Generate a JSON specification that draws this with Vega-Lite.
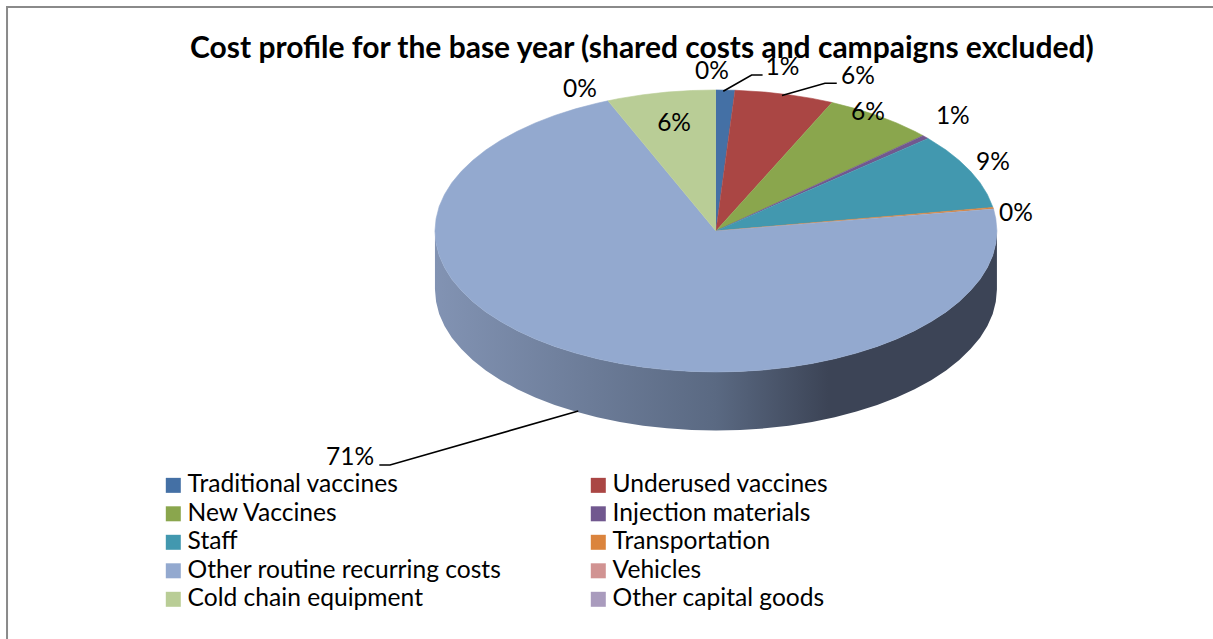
{
"$schema":"https://vega.github.io/schema/vega-lite/v6.json",
"width":1213,"height":639,"padding":0,"autosize":{"type":"none"},
"background":"#ffffff",
"view":{"stroke":null},
"config":{"font":"Lato"},
"title":{"text":"Cost profile for the base year (shared costs and campaigns excluded)","orient":"top","anchor":"start","frame":"group","dx":190,"offset":-64,"fontSize":30,"fontWeight":"bold","font":"Lato","color":"#000000"},
"datasets":{
"frame":[{"u":1.769,"v":1.589,"seq":1},{"u":-2.523,"v":1.589,"seq":2},{"u":-2.523,"v":-2.894,"seq":3}],
"wall":[
{"u":1,"top":0,"bottom":-0.415},{"u":0.996,"top":-0.087,"bottom":-0.502},{"u":0.985,"top":-0.174,"bottom":-0.589},{"u":0.966,"top":-0.259,"bottom":-0.674},{"u":0.94,"top":-0.342,"bottom":-0.757},{"u":0.906,"top":-0.423,"bottom":-0.838},{"u":0.866,"top":-0.5,"bottom":-0.915},{"u":0.819,"top":-0.574,"bottom":-0.989},{"u":0.766,"top":-0.643,"bottom":-1.058},{"u":0.707,"top":-0.707,"bottom":-1.122},{"u":0.643,"top":-0.766,"bottom":-1.181},{"u":0.574,"top":-0.819,"bottom":-1.234},{"u":0.5,"top":-0.866,"bottom":-1.281},{"u":0.423,"top":-0.906,"bottom":-1.321},{"u":0.342,"top":-0.94,"bottom":-1.355},{"u":0.259,"top":-0.966,"bottom":-1.381},{"u":0.174,"top":-0.985,"bottom":-1.4},{"u":0.087,"top":-0.996,"bottom":-1.411},{"u":0,"top":-1,"bottom":-1.415},
{"u":-0.087,"top":-0.996,"bottom":-1.411},{"u":-0.174,"top":-0.985,"bottom":-1.4},{"u":-0.259,"top":-0.966,"bottom":-1.381},{"u":-0.342,"top":-0.94,"bottom":-1.355},{"u":-0.423,"top":-0.906,"bottom":-1.321},{"u":-0.5,"top":-0.866,"bottom":-1.281},{"u":-0.574,"top":-0.819,"bottom":-1.234},{"u":-0.643,"top":-0.766,"bottom":-1.181},{"u":-0.707,"top":-0.707,"bottom":-1.122},{"u":-0.766,"top":-0.643,"bottom":-1.058},{"u":-0.819,"top":-0.574,"bottom":-0.989},{"u":-0.866,"top":-0.5,"bottom":-0.915},{"u":-0.906,"top":-0.423,"bottom":-0.838},{"u":-0.94,"top":-0.342,"bottom":-0.757},{"u":-0.966,"top":-0.259,"bottom":-0.674},{"u":-0.985,"top":-0.174,"bottom":-0.589},{"u":-0.996,"top":-0.087,"bottom":-0.502},{"u":-1,"top":0,"bottom":-0.415}
],
"slices":[
{"category":"Traditional vaccines","seq":0,"u":0,"v":0},{"category":"Traditional vaccines","seq":1,"u":0,"v":1},{"category":"Traditional vaccines","seq":2,"u":0.068,"v":0.998},
{"category":"Underused vaccines","seq":0,"u":0,"v":0},{"category":"Underused vaccines","seq":1,"u":0.068,"v":0.998},{"category":"Underused vaccines","seq":2,"u":0.174,"v":0.985},{"category":"Underused vaccines","seq":3,"u":0.259,"v":0.966},{"category":"Underused vaccines","seq":4,"u":0.342,"v":0.94},{"category":"Underused vaccines","seq":5,"u":0.413,"v":0.911},
{"category":"New Vaccines","seq":0,"u":0,"v":0},{"category":"New Vaccines","seq":1,"u":0.413,"v":0.911},{"category":"New Vaccines","seq":2,"u":0.5,"v":0.866},{"category":"New Vaccines","seq":3,"u":0.574,"v":0.819},{"category":"New Vaccines","seq":4,"u":0.643,"v":0.766},{"category":"New Vaccines","seq":5,"u":0.707,"v":0.707},{"category":"New Vaccines","seq":6,"u":0.737,"v":0.676},
{"category":"Injection materials","seq":0,"u":0,"v":0},{"category":"Injection materials","seq":1,"u":0.737,"v":0.676},{"category":"Injection materials","seq":2,"u":0.755,"v":0.656},
{"category":"Staff","seq":0,"u":0,"v":0},{"category":"Staff","seq":1,"u":0.755,"v":0.656},{"category":"Staff","seq":2,"u":0.819,"v":0.574},{"category":"Staff","seq":3,"u":0.866,"v":0.5},{"category":"Staff","seq":4,"u":0.906,"v":0.423},{"category":"Staff","seq":5,"u":0.94,"v":0.342},{"category":"Staff","seq":6,"u":0.966,"v":0.259},{"category":"Staff","seq":7,"u":0.986,"v":0.167},
{"category":"Transportation","seq":0,"u":0,"v":0},{"category":"Transportation","seq":1,"u":0.986,"v":0.167},{"category":"Transportation","seq":2,"u":0.988,"v":0.156},
{"category":"Other routine recurring costs","seq":0,"u":0,"v":0},{"category":"Other routine recurring costs","seq":1,"u":0.988,"v":0.156},{"category":"Other routine recurring costs","seq":2,"u":0.996,"v":0.087},{"category":"Other routine recurring costs","seq":3,"u":1,"v":0},{"category":"Other routine recurring costs","seq":4,"u":0.996,"v":-0.087},{"category":"Other routine recurring costs","seq":5,"u":0.985,"v":-0.174},{"category":"Other routine recurring costs","seq":6,"u":0.966,"v":-0.259},{"category":"Other routine recurring costs","seq":7,"u":0.94,"v":-0.342},{"category":"Other routine recurring costs","seq":8,"u":0.906,"v":-0.423},{"category":"Other routine recurring costs","seq":9,"u":0.866,"v":-0.5},{"category":"Other routine recurring costs","seq":10,"u":0.819,"v":-0.574},{"category":"Other routine recurring costs","seq":11,"u":0.766,"v":-0.643},{"category":"Other routine recurring costs","seq":12,"u":0.707,"v":-0.707},{"category":"Other routine recurring costs","seq":13,"u":0.643,"v":-0.766},{"category":"Other routine recurring costs","seq":14,"u":0.574,"v":-0.819},{"category":"Other routine recurring costs","seq":15,"u":0.5,"v":-0.866},{"category":"Other routine recurring costs","seq":16,"u":0.423,"v":-0.906},{"category":"Other routine recurring costs","seq":17,"u":0.342,"v":-0.94},{"category":"Other routine recurring costs","seq":18,"u":0.259,"v":-0.966},{"category":"Other routine recurring costs","seq":19,"u":0.174,"v":-0.985},{"category":"Other routine recurring costs","seq":20,"u":0.087,"v":-0.996},{"category":"Other routine recurring costs","seq":21,"u":0,"v":-1},{"category":"Other routine recurring costs","seq":22,"u":-0.087,"v":-0.996},{"category":"Other routine recurring costs","seq":23,"u":-0.174,"v":-0.985},{"category":"Other routine recurring costs","seq":24,"u":-0.259,"v":-0.966},{"category":"Other routine recurring costs","seq":25,"u":-0.342,"v":-0.94},{"category":"Other routine recurring costs","seq":26,"u":-0.423,"v":-0.906},{"category":"Other routine recurring costs","seq":27,"u":-0.5,"v":-0.866},{"category":"Other routine recurring costs","seq":28,"u":-0.574,"v":-0.819},{"category":"Other routine recurring costs","seq":29,"u":-0.643,"v":-0.766},{"category":"Other routine recurring costs","seq":30,"u":-0.707,"v":-0.707},{"category":"Other routine recurring costs","seq":31,"u":-0.766,"v":-0.643},{"category":"Other routine recurring costs","seq":32,"u":-0.819,"v":-0.574},{"category":"Other routine recurring costs","seq":33,"u":-0.866,"v":-0.5},{"category":"Other routine recurring costs","seq":34,"u":-0.906,"v":-0.423},{"category":"Other routine recurring costs","seq":35,"u":-0.94,"v":-0.342},{"category":"Other routine recurring costs","seq":36,"u":-0.966,"v":-0.259},{"category":"Other routine recurring costs","seq":37,"u":-0.985,"v":-0.174},{"category":"Other routine recurring costs","seq":38,"u":-0.996,"v":-0.087},{"category":"Other routine recurring costs","seq":39,"u":-1,"v":0},{"category":"Other routine recurring costs","seq":40,"u":-0.996,"v":0.087},{"category":"Other routine recurring costs","seq":41,"u":-0.985,"v":0.174},{"category":"Other routine recurring costs","seq":42,"u":-0.966,"v":0.259},{"category":"Other routine recurring costs","seq":43,"u":-0.94,"v":0.342},{"category":"Other routine recurring costs","seq":44,"u":-0.906,"v":0.423},{"category":"Other routine recurring costs","seq":45,"u":-0.866,"v":0.5},{"category":"Other routine recurring costs","seq":46,"u":-0.819,"v":0.574},{"category":"Other routine recurring costs","seq":47,"u":-0.766,"v":0.643},{"category":"Other routine recurring costs","seq":48,"u":-0.707,"v":0.707},{"category":"Other routine recurring costs","seq":49,"u":-0.643,"v":0.766},{"category":"Other routine recurring costs","seq":50,"u":-0.574,"v":0.819},{"category":"Other routine recurring costs","seq":51,"u":-0.5,"v":0.866},{"category":"Other routine recurring costs","seq":52,"u":-0.423,"v":0.906},{"category":"Other routine recurring costs","seq":53,"u":-0.384,"v":0.923},
{"category":"Cold chain equipment","seq":0,"u":0,"v":0},{"category":"Cold chain equipment","seq":1,"u":-0.384,"v":0.923},{"category":"Cold chain equipment","seq":2,"u":-0.342,"v":0.94},{"category":"Cold chain equipment","seq":3,"u":-0.259,"v":0.966},{"category":"Cold chain equipment","seq":4,"u":-0.174,"v":0.985},{"category":"Cold chain equipment","seq":5,"u":-0.087,"v":0.996},{"category":"Cold chain equipment","seq":6,"u":0,"v":1}
],
"leaders":[
{"leader":"Traditional vaccines","seq":1,"u":0.026,"v":0.991},{"leader":"Traditional vaccines","seq":2,"u":0.127,"v":1.106},{"leader":"Traditional vaccines","seq":3,"u":0.166,"v":1.106},
{"leader":"Underused vaccines","seq":1,"u":0.235,"v":0.96},{"leader":"Underused vaccines","seq":2,"u":0.388,"v":1.048},{"leader":"Underused vaccines","seq":3,"u":0.43,"v":1.048},
{"leader":"Other routine recurring costs","seq":1,"u":-0.49,"v":-1.277},{"leader":"Other routine recurring costs","seq":2,"u":-1.16,"v":-1.66},{"leader":"Other routine recurring costs","seq":3,"u":-1.198,"v":-1.66}
],
"labels":[
{"category":"Other capital goods","label":"0%","u":-0.014,"v":1.135},
{"category":"Traditional vaccines","label":"1%","u":0.237,"v":1.165},
{"category":"Underused vaccines","label":"6%","u":0.505,"v":1.101},
{"category":"New Vaccines","label":"6%","u":0.541,"v":0.844},
{"category":"Injection materials","label":"1%","u":0.843,"v":0.816},
{"category":"Staff","label":"9%","u":0.986,"v":0.491},
{"category":"Transportation","label":"0%","u":1.068,"v":0.128},
{"category":"Other routine recurring costs","label":"71%","u":-1.302,"v":-1.603},
{"category":"Vehicles","label":"0%","u":-0.484,"v":1.007},
{"category":"Cold chain equipment","label":"6%","u":-0.149,"v":0.768}
]
},
"encoding":{
"x":{"field":"u","type":"quantitative","axis":null,"scale":{"domain":[-2.548,1.769],"nice":false,"zero":false}},
"y":{"type":"quantitative","axis":null,"scale":{"domain":[-2.894,1.638],"nice":false,"zero":false}}
},
"layer":[
{"data":{"name":"frame"},"mark":{"type":"line","color":"#8a8a8a","strokeWidth":2,"clip":false},"encoding":{"y":{"field":"v","type":"quantitative"},"order":{"field":"seq"}}},
{"data":{"name":"wall"},"mark":{"type":"area","color":{"gradient":"linear","x1":0,"x2":1,"y1":0,"y2":0,"stops":[{"offset":0,"color":"#8293b3"},{"offset":0.5,"color":"#5a6982"},{"offset":0.7,"color":"#3c4456"},{"offset":1,"color":"#3c4456"}]}},"encoding":{"y":{"field":"top","type":"quantitative"},"y2":{"field":"bottom"}}},
{"data":{"name":"slices"},"mark":{"type":"line","strokeWidth":0.6},"encoding":{
"y":{"field":"v","type":"quantitative"},
"order":{"field":"seq"},
"detail":{"field":"category"},
"fill":{"field":"category","type":"nominal","sort":null,
"scale":{"domain":["Traditional vaccines","Underused vaccines","New Vaccines","Injection materials","Staff","Transportation","Other routine recurring costs","Vehicles","Cold chain equipment","Other capital goods"],"range":["#4470a5","#aa4644","#8aa64d","#71588f","#4298af","#db843d","#93a9cf","#d19392","#b9cd96","#a99bbd"]},
"legend":{"title":null,"orient":"none","legendX":161,"legendY":473,"columns":2,"direction":"horizontal","symbolType":"square","symbolSize":225,"symbolStrokeWidth":0,"labelFont":"Lato","labelFontSize":24.6,"labelColor":"#000000","labelLimit":400,"labelOffset":2,"rowPadding":3.5,"columnPadding":84,"gridAlign":"each"}},
"stroke":{"field":"category","type":"nominal","sort":null,"legend":null,
"scale":{"domain":["Traditional vaccines","Underused vaccines","New Vaccines","Injection materials","Staff","Transportation","Other routine recurring costs","Vehicles","Cold chain equipment","Other capital goods"],"range":["#4470a5","#aa4644","#8aa64d","#71588f","#4298af","#db843d","#93a9cf","#d19392","#b9cd96","#a99bbd"]}}
}},
{"data":{"name":"leaders"},"mark":{"type":"line","color":"#000000","strokeWidth":1.6},"encoding":{"y":{"field":"v","type":"quantitative"},"order":{"field":"seq"},"detail":{"field":"leader"}}},
{"data":{"name":"labels"},"mark":{"type":"text","font":"Lato","fontSize":24.5,"color":"#000000","align":"center","baseline":"middle","dy":1},"encoding":{"y":{"field":"v","type":"quantitative"},"text":{"field":"label"}}}
]
}
